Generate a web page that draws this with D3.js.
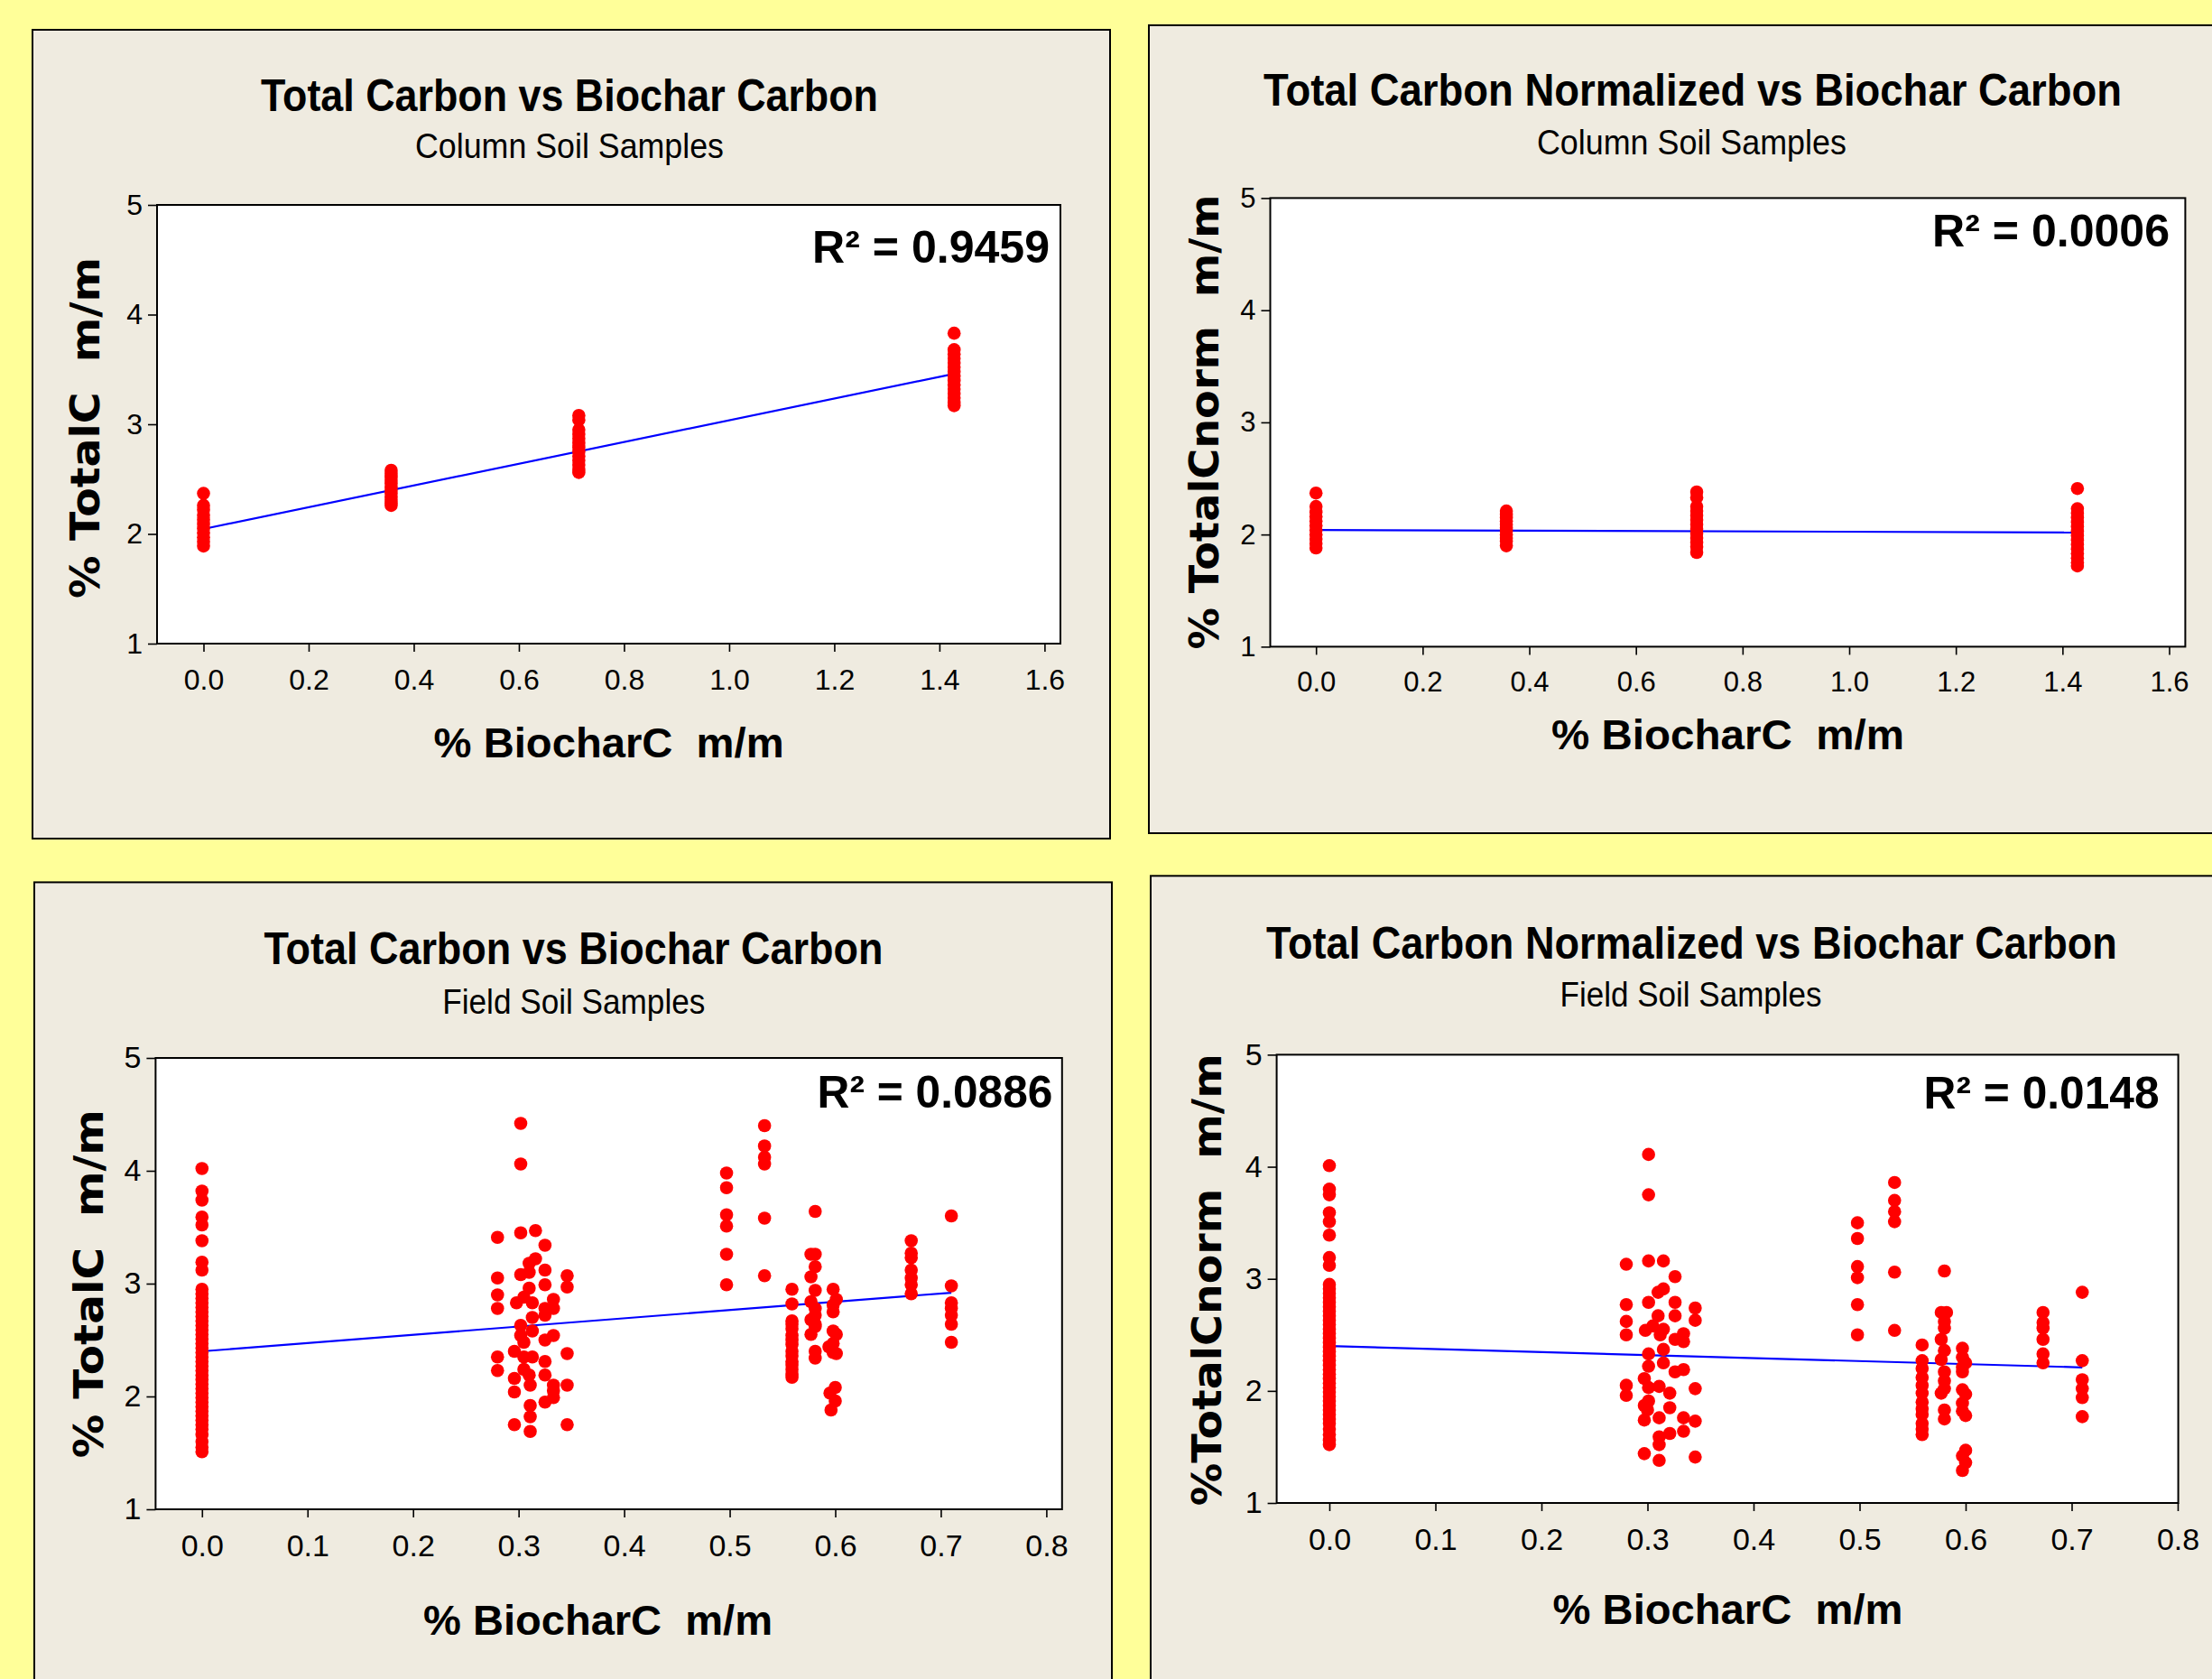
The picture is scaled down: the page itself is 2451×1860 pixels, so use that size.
<!DOCTYPE html>
<html>
<head>
<meta charset="utf-8">
<script src="https://cdn.jsdelivr.net/npm/d3@7"></script>
<style>
body{margin:0;background:#ffff99;}
svg{display:block;}
text{font-family:"Liberation Sans Narrow","Liberation Sans",Arial,sans-serif;}
</style>
</head>
<body>
<svg id="chart" width="2451" height="1860"></svg>
<script>
// ---- data ----
var columnBiocharC = [0, 0.357, 0.714, 1.428];

var columnTotalC = [
    [2.37, 2.26, 2.22, 2.17, 2.13, 2.09, 2.05, 2.01, 1.97, 1.93, 1.89],
    [2.58, 2.55, 2.52, 2.49, 2.46, 2.43, 2.40, 2.37, 2.34, 2.31, 2.28, 2.26],
    [3.08, 3.04, 2.95, 2.91, 2.87, 2.83, 2.79, 2.75, 2.71, 2.67, 2.63, 2.59, 2.56],
    [3.83, 3.68, 3.64, 3.60, 3.56, 3.52, 3.48, 3.44, 3.40, 3.36, 3.32, 3.28, 3.24, 3.20, 3.17]
];

var columnTotalCnorm = [
    [2.37, 2.25, 2.20, 2.16, 2.12, 2.08, 2.04, 2.00, 1.96, 1.92, 1.88],
    [2.21, 2.18, 2.15, 2.12, 2.09, 2.06, 2.03, 2.00, 1.97, 1.94, 1.90],
    [2.38, 2.33, 2.25, 2.21, 2.17, 2.13, 2.09, 2.05, 2.01, 1.97, 1.93, 1.89, 1.84],
    [2.41, 2.23, 2.19, 2.15, 2.11, 2.07, 2.03, 1.99, 1.95, 1.91, 1.87, 1.83, 1.79, 1.75, 1.72]
];

// field samples, [BiocharC, TotalC]
var fieldTotalC = [
    [0,4.02],[0,3.82],[0,3.74],[0,3.59],[0,3.52],[0,3.38],[0,3.19],[0,3.12],
    [0,2.95],[0,2.91],[0,2.87],[0,2.83],[0,2.79],[0,2.75],[0,2.71],[0,2.67],[0,2.63],[0,2.59],
    [0,2.55],[0,2.51],[0,2.47],[0,2.43],[0,2.39],[0,2.35],[0,2.31],[0,2.27],[0,2.23],[0,2.19],
    [0,2.15],[0,2.11],[0,2.07],[0,2.03],[0,1.99],[0,1.95],[0,1.91],[0,1.87],[0,1.83],[0,1.79],
    [0,1.75],[0,1.71],[0,1.66],[0,1.60],[0,1.55],[0,1.51],
    [0.302,4.42],[0.302,4.06],[0.280,3.41],[0.302,3.45],[0.316,3.47],[0.325,3.34],[0.316,3.22],
    [0.310,3.18],[0.325,3.12],[0.302,3.08],[0.310,3.10],[0.280,3.05],[0.346,3.07],[0.346,2.97],
    [0.325,2.99],[0.280,2.90],[0.280,2.78],[0.298,2.83],[0.310,2.96],[0.305,2.88],[0.313,2.83],
    [0.325,2.78],[0.333,2.86],[0.333,2.78],[0.325,2.72],[0.313,2.70],[0.302,2.63],[0.313,2.58],
    [0.302,2.54],[0.333,2.54],[0.325,2.50],[0.305,2.48],[0.280,2.35],[0.280,2.23],[0.296,2.40],
    [0.305,2.35],[0.313,2.35],[0.346,2.38],[0.325,2.31],[0.325,2.19],[0.305,2.24],[0.296,2.16],
    [0.296,2.04],[0.310,2.19],[0.311,2.10],[0.333,2.10],[0.346,2.10],[0.325,1.95],[0.333,1.99],
    [0.311,1.92],[0.311,1.82],[0.296,1.75],[0.346,1.75],[0.311,1.69],[0.333,2.05],
    [0.497,3.98],[0.497,3.85],[0.497,3.61],[0.497,3.51],[0.497,3.26],[0.497,2.99],
    [0.533,4.40],[0.533,4.22],[0.533,4.12],[0.533,4.06],[0.533,3.58],[0.533,3.07],
    [0.559,2.95],[0.559,2.82],[0.559,2.67],[0.559,2.64],[0.559,2.60],[0.559,2.54],[0.559,2.50],
    [0.559,2.46],[0.559,2.40],[0.559,2.36],[0.559,2.31],[0.559,2.28],[0.559,2.24],[0.559,2.20],[0.559,2.17],
    [0.577,3.26],[0.581,3.26],[0.581,3.64],[0.581,3.15],[0.577,3.06],[0.581,2.94],[0.577,2.84],
    [0.581,2.78],[0.581,2.72],[0.577,2.68],[0.581,2.64],[0.581,2.62],[0.577,2.55],[0.581,2.40],[0.581,2.34],
    [0.598,2.95],[0.601,2.86],[0.598,2.81],[0.598,2.75],[0.598,2.58],[0.601,2.55],[0.598,2.47],
    [0.594,2.44],[0.598,2.39],[0.601,2.38],[0.600,2.08],[0.595,2.03],[0.600,1.96],[0.596,1.88],
    [0.672,3.38],[0.672,3.27],[0.672,3.23],[0.672,3.12],[0.672,3.05],[0.672,2.99],[0.672,2.91],
    [0.710,3.60],[0.710,2.98],[0.710,2.83],[0.710,2.78],[0.710,2.72],[0.710,2.64],[0.710,2.48]
];

// field samples, [BiocharC, TotalCnorm]
var fieldTotalCnorm = [
    [0,4.01],[0,3.80],[0,3.75],[0,3.59],[0,3.51],[0,3.39],[0,3.19],[0,3.12],
    [0,2.95],[0,2.91],[0,2.87],[0,2.83],[0,2.79],[0,2.75],[0,2.71],[0,2.67],[0,2.63],[0,2.59],
    [0,2.55],[0,2.51],[0,2.47],[0,2.43],[0,2.39],[0,2.35],[0,2.31],[0,2.27],[0,2.23],[0,2.19],
    [0,2.15],[0,2.11],[0,2.07],[0,2.03],[0,1.99],[0,1.95],[0,1.91],[0,1.87],[0,1.83],[0,1.79],
    [0,1.75],[0,1.71],[0,1.66],[0,1.61],[0,1.56],[0,1.52],
    [0.301,4.11],[0.301,3.75],[0.280,3.13],[0.301,3.16],[0.315,3.16],[0.326,3.02],[0.315,2.91],
    [0.310,2.88],[0.301,2.79],[0.326,2.79],[0.280,2.77],[0.345,2.74],[0.345,2.63],[0.326,2.67],
    [0.310,2.67],[0.280,2.62],[0.280,2.50],[0.298,2.54],[0.305,2.58],[0.315,2.55],[0.312,2.50],
    [0.334,2.51],[0.326,2.46],[0.334,2.44],[0.315,2.37],[0.301,2.33],[0.301,2.22],[0.315,2.25],
    [0.326,2.17],[0.334,2.19],[0.280,2.05],[0.280,1.96],[0.297,2.11],[0.301,2.03],[0.311,2.04],
    [0.345,2.02],[0.321,1.98],[0.297,1.87],[0.301,1.91],[0.321,1.85],[0.300,1.83],[0.297,1.74],
    [0.311,1.76],[0.334,1.76],[0.345,1.73],[0.334,1.64],[0.321,1.62],[0.311,1.59],[0.311,1.52],
    [0.297,1.44],[0.311,1.38],[0.345,1.41],
    [0.498,3.50],[0.498,3.36],[0.498,3.11],[0.498,3.01],[0.498,2.77],[0.498,2.50],
    [0.533,3.86],[0.533,3.70],[0.533,3.60],[0.533,3.51],[0.533,3.06],[0.533,2.54],
    [0.559,2.41],[0.559,2.27],[0.559,2.20],[0.559,2.12],[0.559,2.05],[0.559,1.98],[0.559,1.90],
    [0.559,1.84],[0.559,1.79],[0.559,1.71],[0.559,1.66],[0.559,1.61],
    [0.580,3.07],[0.577,2.70],[0.582,2.70],[0.580,2.62],[0.580,2.56],[0.577,2.46],[0.580,2.36],
    [0.577,2.28],[0.580,2.17],[0.580,2.09],[0.580,2.02],[0.577,1.98],[0.580,1.83],[0.580,1.75],
    [0.597,2.38],[0.597,2.30],[0.600,2.25],[0.597,2.21],[0.597,2.17],[0.597,2.01],[0.600,1.97],
    [0.597,1.89],[0.597,1.82],[0.600,1.78],[0.600,1.47],[0.597,1.42],[0.600,1.36],[0.597,1.29],
    [0.673,2.70],[0.673,2.61],[0.673,2.56],[0.673,2.46],[0.673,2.33],[0.673,2.25],
    [0.710,2.88],[0.710,2.27],[0.710,2.10],[0.710,2.02],[0.710,1.94],[0.710,1.77]
];

// fitted lines [intercept, slope] as drawn
var fitColumnTotalC = [2.045, 0.991];
var fitColumnTotalCnorm = [2.04, -0.015];
var fitFieldTotalC = [2.40, 0.732];
var fitFieldTotalCnorm = [2.40, -0.268];

var rSquared = ["0.9459", "0.0006", "0.0886", "0.0148"];

var xTicksColumn = [0, 0.2, 0.4, 0.6, 0.8, 1.0, 1.2, 1.4, 1.6];
var xTicksField = [0, 0.1, 0.2, 0.3, 0.4, 0.5, 0.6, 0.7, 0.8];
var yTicks = [1, 2, 3, 4, 5];

var titles = ["Total Carbon vs Biochar Carbon", "Total Carbon Normalized vs Biochar Carbon",
              "Total Carbon vs Biochar Carbon", "Total Carbon Normalized vs Biochar Carbon"];
var subtitles = ["Column Soil Samples", "Column Soil Samples", "Field Soil Samples", "Field Soil Samples"];
var yLabels = ["% TotalC  m/m", "% TotalCnorm  m/m", "% TotalC  m/m", "%TotalCnorm  m/m"];
var xLabel = "% BiocharC  m/m";

function columnPoints(ys){
    var pts = [];
    ys.forEach(function(col, i){
        col.forEach(function(v){ pts.push([columnBiocharC[i], v]); });
    });
    return pts;
}

// ---- layout ----
var panels = [
    {points: columnPoints(columnTotalC), fit: fitColumnTotalC, xTicks: xTicksColumn, xMax: 1.6,
     frame: [36, 33, 1194, 896], plot: [174, 227, 1175, 713], xRange: [225.5, 1157.4],
     title: [631, 123, 684], sub: [631, 175, 342], xl: [674.6, 839, 388], yl: [110, 474, 378],
     r2: [1163, 291, 263], tickFont: 32},
    {points: columnPoints(columnTotalCnorm), fit: fitColumnTotalCnorm, xTicks: xTicksColumn, xMax: 1.6,
     frame: [1273, 28, 1200, 895], plot: [1407.5, 219.4, 2421.4, 716.4], xRange: [1458.2, 2403.5],
     title: [1875.5, 117, 951], sub: [1874.4, 171, 343], xl: [1914.5, 830, 391], yl: [1350, 467.6, 504],
     r2: [2404, 273, 263], tickFont: 31},
    {points: fieldTotalC, fit: fitFieldTotalC, xTicks: xTicksField, xMax: 0.8,
     frame: [38, 977.4, 1194, 900], plot: [172.4, 1172, 1176.8, 1672], xRange: [223.8, 1159.4],
     title: [635.4, 1068, 686], sub: [635.8, 1123, 291], xl: [662.5, 1811, 387], yl: [114, 1422.3, 386],
     r2: [1166.5, 1227, 261], tickFont: 34},
    {points: fieldTotalCnorm, fit: fitFieldTotalCnorm, xTicks: xTicksField, xMax: 0.8,
     frame: [1275, 970.3, 1200, 900], plot: [1414.6, 1168.4, 2413.6, 1665], xRange: [1473, 2413],
     title: [1874.4, 1062, 943], sub: [1873.6, 1115, 290], xl: [1914.5, 1799, 388], yl: [1353, 1417.8, 501],
     r2: [2392.6, 1228, 261], tickFont: 34}
];

var svg = d3.select("#chart");

panels.forEach(function(p, i){
    var g = svg.append("g");

    g.append("rect")
        .attr("x", p.frame[0]).attr("y", p.frame[1])
        .attr("width", p.frame[2]).attr("height", p.frame[3])
        .attr("fill", "#efebe0").attr("stroke", "#000").attr("stroke-width", 2);

    var x = d3.scaleLinear().domain([0, p.xMax]).range(p.xRange);
    var y = d3.scaleLinear().domain([1, 5]).range([p.plot[3], p.plot[1]]);

    g.append("rect")
        .attr("x", p.plot[0]).attr("y", p.plot[1])
        .attr("width", p.plot[2] - p.plot[0]).attr("height", p.plot[3] - p.plot[1])
        .attr("fill", "#fff");

    // axes
    var ax = g.append("g")
        .attr("transform", "translate(0," + p.plot[3] + ")")
        .call(d3.axisBottom(x).tickValues(p.xTicks).tickFormat(d3.format(".1f"))
              .tickSize(9).tickSizeOuter(0).tickPadding(19));
    ax.select(".domain").remove();
    ax.attr("font-size", p.tickFont).attr("font-family", null);
    ax.selectAll("line").attr("stroke-width", 1.6);

    var ay = g.append("g")
        .attr("transform", "translate(" + p.plot[0] + ",0)")
        .call(d3.axisLeft(y).tickValues(yTicks).tickFormat(d3.format("d"))
              .tickSize(10).tickSizeOuter(0).tickPadding(6));
    ay.select(".domain").remove();
    ay.attr("font-size", p.tickFont).attr("font-family", null);
    ay.selectAll("line").attr("stroke-width", 1.6);

    // fitted line
    var ext = d3.extent(p.points, function(d){ return d[0]; });
    g.append("line")
        .attr("x1", x(ext[0])).attr("y1", y(p.fit[0] + p.fit[1] * ext[0]))
        .attr("x2", x(ext[1])).attr("y2", y(p.fit[0] + p.fit[1] * ext[1]))
        .attr("stroke", "#0000ff").attr("stroke-width", 2.2);

    g.selectAll("circle")
        .data(p.points)
        .enter().append("circle")
        .attr("cx", function(d){ return x(d[0]); })
        .attr("cy", function(d){ return y(d[1]); })
        .attr("r", 7.3)
        .style("fill", "#ff0000");

    g.append("rect")
        .attr("x", p.plot[0]).attr("y", p.plot[1])
        .attr("width", p.plot[2] - p.plot[0]).attr("height", p.plot[3] - p.plot[1])
        .attr("fill", "none").attr("stroke", "#000").attr("stroke-width", 2);

    // texts
    g.append("text")
        .attr("x", p.title[0]).attr("y", p.title[1])
        .attr("text-anchor", "middle").attr("font-weight", "bold").attr("font-size", 50)
        .attr("textLength", p.title[2]).attr("lengthAdjust", "spacingAndGlyphs")
        .text(titles[i]);

    g.append("text")
        .attr("x", p.sub[0]).attr("y", p.sub[1])
        .attr("text-anchor", "middle").attr("font-size", 39)
        .attr("textLength", p.sub[2]).attr("lengthAdjust", "spacingAndGlyphs")
        .text(subtitles[i]);

    g.append("text")
        .attr("x", p.xl[0]).attr("y", p.xl[1])
        .attr("text-anchor", "middle").attr("font-weight", "bold").attr("font-size", 46)
        .attr("textLength", p.xl[2]).attr("lengthAdjust", "spacingAndGlyphs")
        .style("white-space", "pre")
        .text(xLabel);

    g.append("text")
        .attr("transform", "translate(" + p.yl[0] + "," + p.yl[1] + ") rotate(-90)")
        .attr("text-anchor", "middle").attr("font-weight", "bold").attr("font-size", 45)
        .style("font-family", "'DejaVu Sans', Verdana, sans-serif")
        .attr("textLength", p.yl[2]).attr("lengthAdjust", "spacingAndGlyphs")
        .style("white-space", "pre")
        .text(yLabels[i]);

    g.append("text")
        .attr("x", p.r2[0]).attr("y", p.r2[1])
        .attr("text-anchor", "end").attr("font-weight", "bold").attr("font-size", 50)
        .attr("textLength", p.r2[2]).attr("lengthAdjust", "spacingAndGlyphs")
        .style("white-space", "pre")
        .text("R\u00B2 = " + rSquared[i]);
});
</script>
</body>
</html>
